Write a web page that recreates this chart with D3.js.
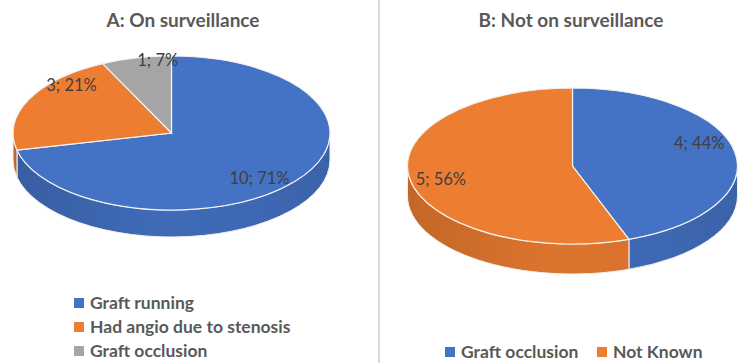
<!DOCTYPE html>
<html>
<head>
<meta charset="utf-8">
<script src="https://cdn.jsdelivr.net/npm/d3@7"></script>
<style>
  html, body { margin: 0; padding: 0; background: #fff; }
  svg { display: block; font-family: Lato, "Open Sans", sans-serif; }
</style>
</head>
<body>
<div id="chart"></div>
<script>
// Panel A - on surveillance
const categoriesA = ["Graft running", "Had angio due to stenosis", "Graft occlusion"];
const valuesA = [10, 3, 1];
const colorsA = ["#4472C4", "#ED7D31", "#A5A5A5"];

// Panel B - not on surveillance
const categoriesB = ["Graft occlusion", "Not Known"];
const valuesB = [4, 5];
const colorsB = ["#4472C4", "#ED7D31"];

const width = 750, height = 363;

const svg = d3.select("#chart")
  .append("svg")
  .attr("width", width)
  .attr("height", height);

const defs = svg.append("defs");

// divider between the two panels
svg.append("line")
  .attr("x1", 379).attr("x2", 379)
  .attr("y1", 0).attr("y2", height)
  .attr("stroke", "#d9d9d9")
  .attr("stroke-width", 2);

// panel layout (geometry only)
const panels = [
  {
    id: "a", title: "A: On surveillance", titleX: 183,
    cats: categoriesA, vals: valuesA, colors: colorsA,
    cx: 171.5, cy: 133, rx: 158.5, ry: 77, depth: 27,
    labelF: [[0.71, 0.94], [0.70, 1.44], [0.39, 0.97]],
    legend: { type: "column", x: 74, y: 303, step: 24 }
  },
  {
    id: "b", title: "B: Not on surveillance", titleX: 571,
    cats: categoriesB, vals: valuesB, colors: colorsB,
    cx: 572.5, cy: 166, rx: 165, ry: 78, depth: 30,
    labelF: [[0.78, 1.66], [0.81, 0.96]],
    legend: { type: "row", x: 445, y: 352, xs: [0, 152] }
  }
];

const pie = d3.pie().sort(null).value(d => d);

panels.forEach(p => {
  const g = svg.append("g").attr("class", "panel-" + p.id);
  const total = d3.sum(p.vals);
  const arcs = pie(p.vals);

  const pt = (a, dy = 0) => [p.cx + p.rx * Math.sin(a), p.cy - p.ry * Math.cos(a) + dy];

  // side gradients per colour
  p.colors.forEach((c, i) => {
    const grad = defs.append("linearGradient")
      .attr("id", `side-${p.id}-${i}`)
      .attr("gradientUnits", "userSpaceOnUse")
      .attr("x1", p.cx - p.rx).attr("x2", p.cx + p.rx)
      .attr("y1", 0).attr("y2", 0);
    const base = d3.color(c);
    [[0, 0.55], [0.45, 0.2], [0.75, 0.25], [1, 0.4]].forEach(([o, k]) => {
      grad.append("stop").attr("offset", o).attr("stop-color", base.darker(k).formatHex());
    });
  });

  // front walls: visible part of each slice between 90 and 270 degrees
  const lo = Math.PI / 2, hi = Math.PI * 3 / 2;
  arcs.forEach((d, i) => {
    const a0 = Math.max(d.startAngle, lo);
    const a1 = Math.min(d.endAngle, hi);
    if (a1 <= a0) return;
    const p0 = pt(a0), p1 = pt(a1);
    const q0 = pt(a0, p.depth), q1 = pt(a1, p.depth);
    const path = `M${p0}A${p.rx},${p.ry} 0 0 1 ${p1}L${q1}A${p.rx},${p.ry} 0 0 0 ${q0}Z`;
    g.append("path")
      .attr("d", path)
      .attr("fill", `url(#side-${p.id}-${i})`)
      .attr("stroke", "#f2f2f2")
      .attr("stroke-width", 1);
  });

  // top face: d3.arc squashed into an ellipse
  const arc = d3.arc().innerRadius(0).outerRadius(p.rx);
  g.append("g")
    .attr("transform", `translate(${p.cx},${p.cy}) scale(1,${p.ry / p.rx})`)
    .selectAll("path")
    .data(arcs)
    .join("path")
    .attr("d", arc)
    .attr("fill", (d, i) => p.colors[i])
    .attr("stroke", "#f2f2f2")
    .attr("stroke-width", 1.2)
    .attr("vector-effect", "non-scaling-stroke");

  // data labels
  g.selectAll("text.lbl")
    .data(arcs)
    .join("text")
    .attr("class", "lbl")
    .attr("x", (d, i) => p.cx + p.rx * p.labelF[i][0] * Math.sin((d.startAngle + d.endAngle) / 2))
    .attr("y", (d, i) => p.cy - p.ry * p.labelF[i][1] * Math.cos((d.startAngle + d.endAngle) / 2))
    .attr("dy", "0.36em")
    .attr("text-anchor", "middle")
    .attr("fill", "#404040")
    .style("font-size", "16.5px")
    .text(d => `${d.data}; ${Math.round(d.data / total * 100)}%`);

  // title
  g.append("text")
    .attr("x", p.titleX)
    .attr("y", 27)
    .attr("text-anchor", "middle")
    .attr("fill", "#595959")
    .style("font-size", "19px")
    .style("font-weight", "700")
    .text(p.title);

  // legend
  const lg = g.append("g");
  const items = lg.selectAll("g")
    .data(p.cats)
    .join("g")
    .attr("transform", (d, i) => p.legend.type === "column"
      ? `translate(${p.legend.x},${p.legend.y + i * p.legend.step})`
      : `translate(${p.legend.x + p.legend.xs[i]},${p.legend.y})`);
  items.append("rect")
    .attr("x", 0).attr("y", -5)
    .attr("width", 10).attr("height", 10)
    .attr("fill", (d, i) => p.colors[i]);
  items.append("text")
    .attr("x", 16).attr("y", 0)
    .attr("dy", "0.36em")
    .attr("fill", "#595959")
    .style("font-size", "17.5px")
    .style("font-weight", "700")
    .text(d => d);
});
</script>
</body>
</html>
